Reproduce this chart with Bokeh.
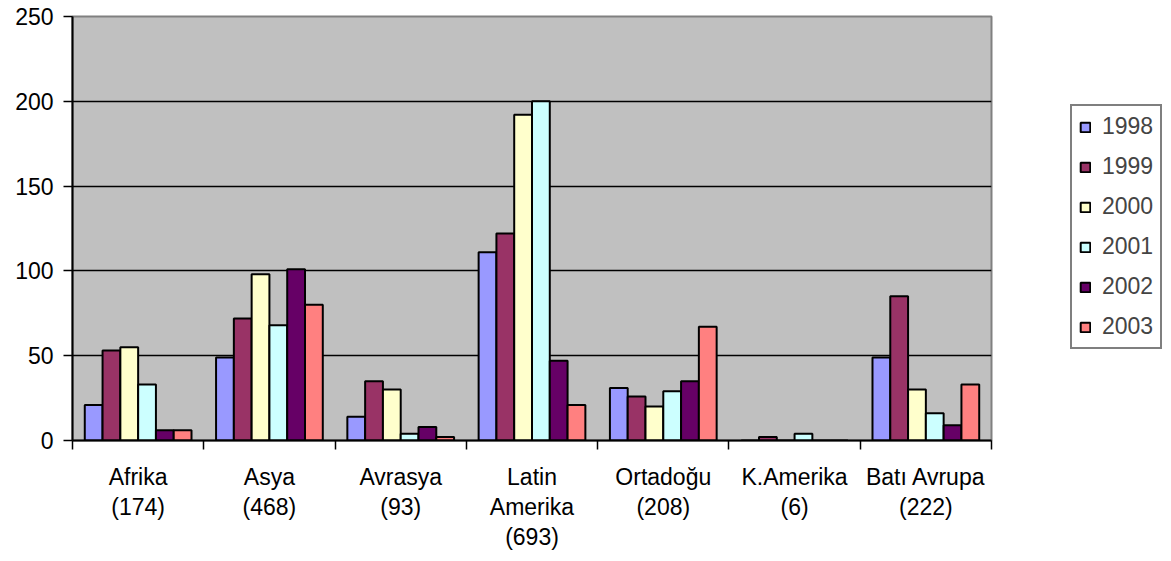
from bokeh.plotting import figure
from bokeh.models import (ColumnDataSource, Range1d, LinearAxis, FixedTicker, Legend, LegendItem)
from bokeh.transform import dodge
from bokeh.embed import file_html
from bokeh.resources import INLINE

categories = ["Afrika\n(174)", "Asya\n(468)", "Avrasya\n(93)", "Latin\nAmerika\n(693)",
              "Ortadoğu\n(208)", "K.Amerika\n(6)", "Batı Avrupa\n(222)"]
years = ["1998", "1999", "2000", "2001", "2002", "2003"]
v1998 = [21, 49, 14, 111, 31, 0, 49]
v1999 = [53, 72, 35, 122, 26, 2, 85]
v2000 = [55, 98, 30, 192, 20, 0, 30]
v2001 = [33, 68, 4, 200, 29, 4, 16]
v2002 = [6, 101, 8, 47, 35, 0, 9]
v2003 = [6, 80, 2, 21, 67, 0, 33]
y_ticks = [0, 50, 100, 150, 200, 250]
colors = ["#9999FF", "#993366", "#FFFFCC", "#CCFFFF", "#660066", "#FF8080"]

FONT = "Liberation Sans"
FS = "23px"

n = len(categories)
centers = [i + 0.5 for i in range(n)]
bounds = list(range(n + 1))

src = ColumnDataSource(data={"xc": centers, "cat": categories, "1998": v1998, "1999": v1999,
                             "2000": v2000, "2001": v2001, "2002": v2002, "2003": v2003})

p = figure(x_range=Range1d(0, n), y_range=Range1d(0, 250),
           frame_width=919, frame_height=424, output_backend="svg", toolbar_location=None,
           x_axis_location=None, y_axis_location=None,
           min_border_left=72, min_border_top=16, min_border_right=172, min_border_bottom=115)
p.background_fill_color = "#C0C0C0"
p.border_fill_color = "white"
p.outline_line_color = "#808080"
p.outline_line_width = 2

# y axis
yax = LinearAxis(ticker=FixedTicker(ticks=y_ticks), major_tick_out=9, major_tick_in=0,
                 minor_tick_line_color=None, axis_line_color="black", axis_line_width=2,
                 major_tick_line_color="black", major_tick_line_width=1.5,
                 major_label_text_font=FONT, major_label_text_font_size=FS,
                 major_label_text_color="black", major_label_standoff=10)
p.add_layout(yax, "left")
p.ygrid.ticker = FixedTicker(ticks=y_ticks)
p.ygrid.grid_line_color = "black"
p.ygrid.grid_line_width = 1.5
p.xgrid.visible = False

# x axis: labels centred in each category, tick marks at category boundaries
xax = LinearAxis(ticker=FixedTicker(ticks=centers, minor_ticks=bounds),
                 major_label_overrides={c: lab for c, lab in zip(centers, categories)},
                 axis_line_color="black", axis_line_width=2,
                 major_tick_line_color=None, major_tick_out=9, major_tick_in=0,
                 minor_tick_line_color="black", minor_tick_line_width=1.5,
                 minor_tick_out=9, minor_tick_in=0, major_label_standoff=14,
                 major_label_text_font=FONT, major_label_text_font_size=FS,
                 major_label_text_color="black", major_label_text_line_height=1.16)
p.add_layout(xax, "below")

w = 0.1355
items = []
for j, yr in enumerate(years):
    r = p.vbar(x=dodge("xc", (j - 2.5) * w), top=yr, width=w, source=src,
               fill_color=colors[j], line_color="black", line_width=2)
    items.append(LegendItem(label=yr, renderers=[r]))

legend = Legend(items=items, location=(79, 91), glyph_width=12, glyph_height=12,
                label_text_font=FONT, label_text_font_size=FS, label_standoff=11,
                label_height=24, spacing=13, padding=7, margin=0,
                border_line_color="black", border_line_width=2,
                background_fill_color="white", background_fill_alpha=1)
p.add_layout(legend, "right")

open("out.html", "w").write(file_html(p, INLINE))
